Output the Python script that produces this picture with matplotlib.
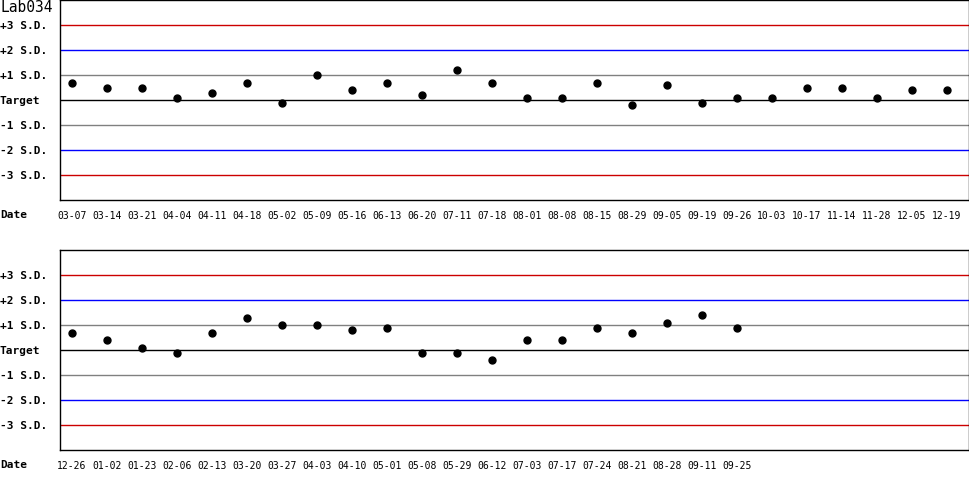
import matplotlib
matplotlib.use("Agg")
import matplotlib.pyplot as plt
from matplotlib import transforms

# QC values in S.D. units from target
dates_1 = ["03-07", "03-14", "03-21", "04-04", "04-11", "04-18", "05-02", "05-09",
           "05-16", "06-13", "06-20", "07-11", "07-18", "08-01", "08-08", "08-15",
           "08-29", "09-05", "09-19", "09-26", "10-03", "10-17", "11-14", "11-28",
           "12-05", "12-19"]
sd_1 = [0.7, 0.5, 0.5, 0.1, 0.3, 0.7, -0.1, 1.0,
        0.4, 0.7, 0.2, 1.2, 0.7, 0.1, 0.1, 0.7,
        -0.2, 0.6, -0.1, 0.1, 0.1, 0.5, 0.5, 0.1,
        0.4, 0.4]

dates_2 = ["12-26", "01-02", "01-23", "02-06", "02-13", "03-20", "03-27", "04-03",
           "04-10", "05-01", "05-08", "05-29", "06-12", "07-03", "07-17", "07-24",
           "08-21", "08-28", "09-11", "09-25"]
sd_2 = [0.7, 0.4, 0.1, -0.1, 0.7, 1.3, 1.0, 1.0,
        0.8, 0.9, -0.1, -0.1, -0.4, 0.4, 0.4, 0.9,
        0.7, 1.1, 1.4, 0.9]

levels = [3, 2, 1, 0, -1, -2, -3]
level_labels = ["+3 S.D.", "+2 S.D.", "+1 S.D.", "Target", "-1 S.D.", "-2 S.D.", "-3 S.D."]
level_colors = ["#cc0000", "#0000ff", "#808080", "#000000", "#808080", "#0000ff", "#cc0000"]

mono = "DejaVu Sans Mono"
fig = plt.figure(figsize=(9.7, 5), dpi=100)


def panel(rect, dates, vals):
    ax = fig.add_axes(rect)
    for lv, c in zip(levels, level_colors):
        ax.axhline(lv, color=c, lw=1, zorder=1)
    ax.plot(range(len(vals)), vals, "o", color="black", ms=5, zorder=3)
    ax.set_ylim(-4, 4)
    ax.set_xlim(-12 / 35, 897 / 35)
    ax.set_yticks(levels)
    ax.set_yticklabels(level_labels, family=mono, fontsize=8, fontweight="bold")
    for t in ax.get_yticklabels():
        t.set_horizontalalignment("left")
    ax.tick_params(axis="y", length=0, pad=43.2)
    ax.set_xticks(range(len(dates)))
    ax.set_xticklabels(dates, family=mono, fontsize=7)
    ax.tick_params(axis="x", length=0, pad=8)
    for s in ax.spines.values():
        s.set_linewidth(1)
    # "Date" label at far left, in line with the tick labels
    tr = transforms.blended_transform_factory(fig.transFigure, ax.transAxes)
    ax.text(0, -0.075, "Date", transform=tr, family=mono, fontsize=8,
            fontweight="bold", ha="left", va="center")
    return ax


panel([60 / 970, 0.6, 909 / 970, 0.4], dates_1, sd_1)
panel([60 / 970, 0.1, 909 / 970, 0.4], dates_2, sd_2)

fig.text(0, 1 - 7 / 500, "Lab034", family=mono, fontsize=10.5, ha="left", va="center")

fig.savefig("out.png", dpi=100)
